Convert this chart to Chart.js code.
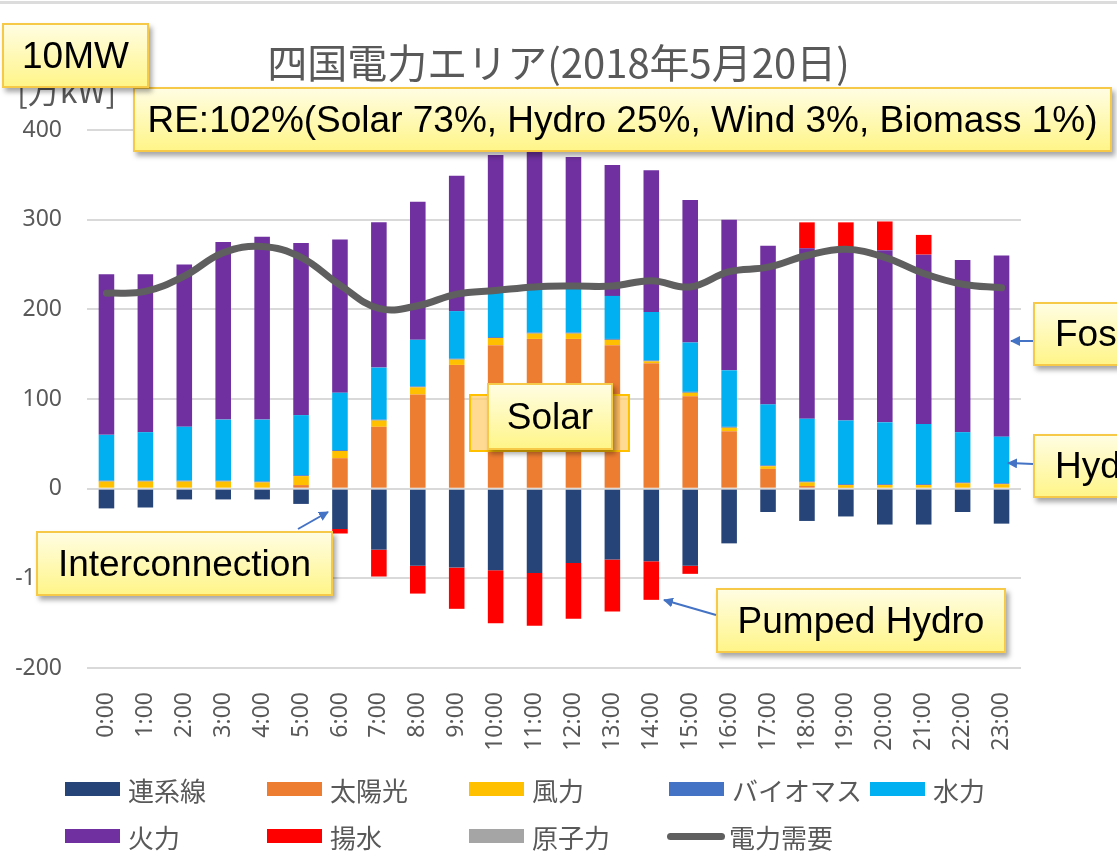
<!DOCTYPE html>
<html lang="ja">
<head>
<meta charset="utf-8">
<title>四国電力エリア(2018年5月20日)</title>
<script src="https://cdn.jsdelivr.net/npm/chart.js@4.4.1/dist/chart.umd.min.js"></script>
<style>
  html, body { margin: 0; padding: 0; background: #fff; }
  body { width: 1117px; height: 864px; overflow: hidden; position: relative; font-family: "Noto Sans CJK JP", "Noto Sans", sans-serif; }
  #topline { position: absolute; left: 0; top: 1px; width: 1117px; height: 3px; background: #dcdcdc; }
  #c { position: absolute; left: 0; top: 0; }
  #title { position: absolute; left: 0; top: 36px; width: 1117px; text-align: center; font-size: 40px; line-height: 50px; color: #595959; white-space: nowrap; }
  #unit { position: absolute; left: 17px; top: 69px; font-size: 32px; line-height: 40px; color: #595959; white-space: nowrap; }
  .callout {
    position: absolute; box-sizing: border-box;
    border: 2px solid #f7c948;
    background: linear-gradient(#fffde2, #fff589);
    box-shadow: 3px 4px 5px rgba(0,0,0,0.35);
    font-family: "Liberation Sans", Arial, sans-serif; font-size: 37px; color: #000;
    display: flex; align-items: center; justify-content: center; white-space: nowrap;
  }
  .callout.left { justify-content: flex-start; padding-left: 20px; }
  #solarBack { position: absolute; left: 469px; top: 394px; width: 161px; height: 58px; box-sizing: border-box; background: rgba(255,205,110,0.75); border: 2px solid #ffc000; }
  #legend { position: absolute; left: 0; top: 0; }
  .lg { position: absolute; display: flex; align-items: center; font-size: 26px; color: #595959; height: 30px; white-space: nowrap; }
  .lg .sw { flex: 0 0 55px; height: 14px; margin-right: 8px; }
  .lg .ln { flex: 0 0 58px; height: 7px; border-radius: 4px; margin-right: 4px; }
  #arrows { position: absolute; left: 0; top: 0; }
</style>
</head>
<body>
<div id="topline"></div>
<canvas id="c" width="1117" height="864"></canvas>
<div id="title">四国電力エリア(2018年5月20日)</div>
<div id="unit">[万kW]</div>
<div id="legend"></div>

<div id="solarBack"></div>
<div class="callout" style="left:487px;top:383px;width:126px;height:67px;">Solar</div>
<div class="callout" style="left:133px;top:87px;width:979px;height:65px;">RE:102%(Solar 73%, Hydro 25%, Wind 3%, Biomass 1%)</div>
<div class="callout" style="left:2px;top:23px;width:147px;height:65px;">10MW</div>
<div class="callout" style="left:36px;top:531px;width:297px;height:65px;">Interconnection</div>
<div class="callout" style="left:716px;top:588px;width:290px;height:65px;">Pumped Hydro</div>
<div class="callout left" style="left:1033px;top:302px;width:200px;height:64px;">Fossil</div>
<div class="callout left" style="left:1033px;top:434px;width:200px;height:64px;">Hydro</div>

<svg id="arrows" width="1117" height="864">
  <defs>
    <marker id="ah" viewBox="0 0 10 10" refX="9" refY="5" markerWidth="5" markerHeight="5" orient="auto">
      <path d="M0,0 L10,5 L0,10 z" fill="#4472c4"/>
    </marker>
  </defs>
  <g stroke="#4472c4" stroke-width="2" fill="none" marker-end="url(#ah)">
    <line x1="298" y1="529" x2="328" y2="512"/>
    <line x1="716" y1="615" x2="664" y2="600"/>
    <line x1="1033" y1="341" x2="1011" y2="341"/>
    <line x1="1033" y1="464" x2="1008" y2="463"/>
  </g>
</svg>

<script>
// hours
const hours = ['0:00','1:00','2:00','3:00','4:00','5:00','6:00','7:00','8:00','9:00','10:00','11:00',
  '12:00','13:00','14:00','15:00','16:00','17:00','18:00','19:00','20:00','21:00','22:00','23:00'];

// 万kW
const interconnect = [-22,-21,-12,-12,-12,-17,-45,-68,-86,-88,-91,-94,-83,-79,-81,-86,-61,-26,-36,-31,-40,-40,-26,-39];
const solar   = [0,0,0,0,0,4,34,69,105,138,160,167,167,160,140,103,64,22,3,1,0,0,0,0];
const wind    = [8,8,8,8,7,10,8,7,8,6,8,6,6,6,2,4,4,3,4,3,4,4,6,5];
const biomass = [1,1,1,1,1,1,1,1,1,1,1,1,1,1,1,1,1,1,1,1,1,1,1,1];
const hydro   = [51,54,60,68,69,67,64,58,52,53,53,49,49,48,54,55,63,68,70,71,69,67,56,52];
const fossil  = [179,176,181,198,204,192,171,162,154,151,150,155,147,146,158,159,168,177,190,192,192,189,192,202];
const pumped  = [0,0,0,0,0,0,-5,-30,-31,-46,-59,-59,-62,-58,-43,-9,0,0,29,29,32,22,0,0];
const nuclear = [0,0,0,0,0,0,0,0,0,0,0,0,0,0,0,0,0,0,0,0,0,0,0,0];
const demand  = [218,220,237,263,270,258,227,201,204,217,221,225,226,226,232,225,242,247,260,267,258,240,228,224];

const yTicks = [-200,-100,0,100,200,300,400];

const bars = [
  { label: '連系線', data: interconnect, color: '#264478' },
  { label: '太陽光', data: solar, color: '#ed7d31' },
  { label: '風力', data: wind, color: '#ffc000' },
  { label: 'バイオマス', data: biomass, color: '#4472c4' },
  { label: '水力', data: hydro, color: '#00b0f0' },
  { label: '火力', data: fossil, color: '#7030a0' },
  { label: '揚水', data: pumped, color: '#ff0000' },
  { label: '原子力', data: nuclear, color: '#a5a5a5' }
];

const grey = '#595959';
const tickFont = { family: "'Noto Sans', sans-serif", size: 23 };

const datasets = bars.map(b => ({
  type: 'bar', label: b.label, data: b.data,
  backgroundColor: b.color, borderWidth: 0,
  barPercentage: 0.4, categoryPercentage: 1, order: 1
}));
datasets.push({
  type: 'line', label: '電力需要', data: demand,
  borderColor: '#5f5f5f', borderWidth: 7, pointRadius: 0,
  tension: 0.4, borderCapStyle: 'round', fill: false, order: 0
});

const chart = new Chart(document.getElementById('c'), {
  type: 'bar',
  data: { labels: hours, datasets },
  options: {
    responsive: false,
    animation: false,
    layout: { padding: { left: 0, right: 96, top: 130, bottom: 106 } },
    plugins: { legend: { display: false }, tooltip: { enabled: false } },
    scales: {
      x: {
        stacked: true,
        grid: { display: false },
        border: { display: false },
        ticks: { minRotation: 90, maxRotation: 90, padding: 16, color: grey, font: tickFont },
        afterFit: s => { s.height = 90; }
      },
      y: {
        stacked: true, min: -200, max: 400,
        afterBuildTicks: s => { s.ticks = yTicks.map(v => ({ value: v })); },
        grid: { color: '#d9d9d9', lineWidth: 2, drawTicks: false },
        border: { display: false },
        ticks: { padding: 25, color: grey, font: tickFont },
        afterFit: s => { s.width = 87; }
      }
    }
  }
});

// legend in Excel's fixed columns
const legendSlots = [[65,774],[267,774],[469,774],[669,774],[870,774],[65,821],[267,821],[469,821],[667,821]];
const legendOrder = ['連系線','太陽光','風力','バイオマス','水力','火力','揚水','原子力','電力需要'];
const lg = document.getElementById('legend');
legendOrder.forEach((name, i) => {
  const ds = chart.data.datasets.find(d => d.label === name);
  const el = document.createElement('div');
  el.className = 'lg';
  el.style.left = legendSlots[i][0] + 'px';
  el.style.top = legendSlots[i][1] + 'px';
  const sw = document.createElement('span');
  if (ds.type === 'line') { sw.className = 'ln'; sw.style.background = ds.borderColor; }
  else { sw.className = 'sw'; sw.style.background = ds.backgroundColor; }
  el.appendChild(sw);
  el.appendChild(document.createTextNode(name));
  lg.appendChild(el);
});
</script>
</body>
</html>
